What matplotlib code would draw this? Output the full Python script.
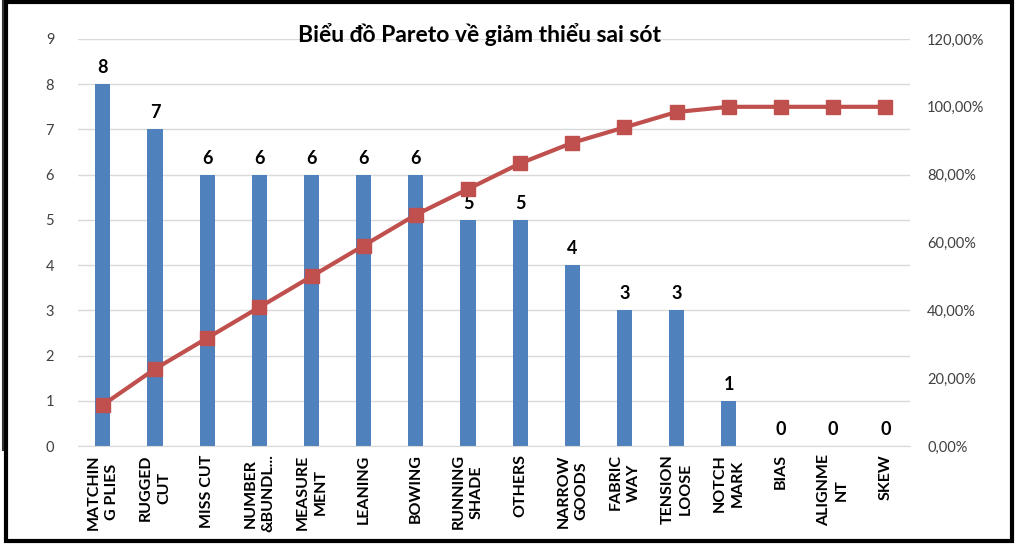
import matplotlib
matplotlib.use("Agg")
import matplotlib.pyplot as plt
from matplotlib.patches import Rectangle
from matplotlib.lines import Line2D
from matplotlib.ticker import FuncFormatter

plt.rcParams['font.family'] = ['Lato', 'DejaVu Sans']

categories = ["MATCHIN\nG PLIES", "RUGGED\nCUT", "MISS CUT", "NUMBER\n&BUNDL...", "MEASURE\nMENT",
              "LEANING", "BOWING", "RUNNING\nSHADE", "OTHERS", "NARROW\nGOODS", "FABRIC\nWAY",
              "TENSION\nLOOSE", "NOTCH\nMARK", "BIAS", "ALIGNME\nNT", "SKEW"]
counts = [8, 7, 6, 6, 6, 6, 6, 5, 5, 4, 3, 3, 1, 0, 0, 0]
cumulative_pct = [12.12, 22.73, 31.82, 40.91, 50.00, 59.09, 68.18, 75.76, 83.33, 89.39,
                  93.94, 98.48, 100.0, 100.0, 100.0, 100.0]
title = "Biểu đồ Pareto về giảm thiểu sai sót"

bar_color = "#4F81BD"
line_color = "#C0504D"

fig = plt.figure(figsize=(10.24, 5.49), dpi=100)
ax = fig.add_axes([0.076, 0.1876, 0.813, 0.7414])
x = list(range(len(categories)))
ax.bar(x, counts, width=0.29, color=bar_color, zorder=2)
ax.set_ylim(0, 9)
ax.set_xlim(-0.48, len(categories) - 0.52)
ax.set_yticks(range(0, 10))
ax.grid(axis='y', color='#D9D9D9', linewidth=1, zorder=0)
for s in ['top', 'right', 'left']:
    ax.spines[s].set_visible(False)
ax.spines['bottom'].set_color('#D9D9D9')
ax.tick_params(axis='y', length=0, labelsize=10.5, colors='#404040', pad=17)
ax.tick_params(axis='x', length=0, pad=6)
ax.set_xticks(x)
ax.set_xticklabels(categories, rotation=90, fontsize=11.5, fontweight='bold',
                   linespacing=1.35, va='top', ha='center')
for xi, v in zip(x, counts):
    ax.text(xi, v + 0.18, str(v), ha='center', va='bottom', fontsize=13, fontweight='bold')

ax2 = ax.twinx()
ax2.set_ylim(0, 120)
ax2.set_yticks(range(0, 121, 20))
ax2.yaxis.set_major_formatter(FuncFormatter(lambda v, p: f"{v:.2f}%".replace('.', ',')))
for s in ['top', 'right', 'left', 'bottom']:
    ax2.spines[s].set_visible(False)
ax2.tick_params(axis='y', length=0, labelsize=10.5, colors='#404040', pad=12)
ax2.plot(x, cumulative_pct, color=line_color, linewidth=3, marker='s', markersize=10, zorder=3)

fig.text(0.468, 0.938, title, ha='center', va='center', fontsize=16.5, fontweight='bold')

fig.patches.append(Rectangle((6/1024, 8/549), 1006/1024, 539/549, transform=fig.transFigure,
                             fill=False, edgecolor='black', linewidth=3))
fig.lines.append(Line2D([3/1024, 3/1024], [1 - 450/549, 1], transform=fig.transFigure,
                        color='#333333', linewidth=1.5))

fig.savefig("out.png", dpi=100)
